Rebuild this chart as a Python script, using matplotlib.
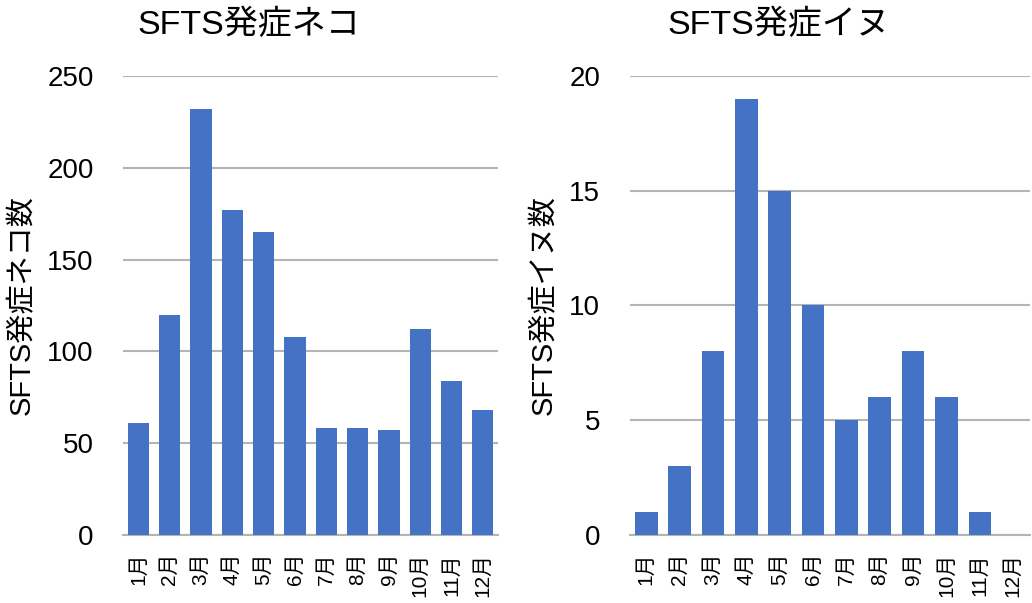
import matplotlib
matplotlib.use("Agg")
import matplotlib.pyplot as plt
import numpy as np

plt.rcParams['font.family'] = ['Liberation Sans', 'Noto Sans CJK JP', 'DejaVu Sans']

months = ["1月", "2月", "3月", "4月", "5月", "6月", "7月", "8月", "9月", "10月", "11月", "12月"]
cats = [61, 120, 232, 177, 165, 108, 58, 58, 57, 112, 84, 68]
dogs = [1, 3, 8, 19, 15, 10, 5, 6, 8, 6, 1, 0]

cat_ticks = [0, 50, 100, 150, 200, 250]
dog_ticks = [0, 5, 10, 15, 20]

bar_color = "#4472C4"
grid_color = "#b4b4b4"
fs = 20

fig = plt.figure(figsize=(10.32, 6.03), dpi=100)

def style(ax, data, ticks, ylabel):
    x = np.arange(len(months))
    ax.bar(x, data, width=0.68, color=bar_color, zorder=3)
    ax.set_xlim(-0.5, len(months) - 0.5)
    ax.set_ylim(ticks[0], ticks[-1])
    ax.set_yticks(ticks)
    ax.set_yticklabels([str(t) for t in ticks], fontsize=fs)
    ax.set_xticks(x)
    ax.set_xticklabels(months, rotation=90, fontsize=15, va='top', ha='center')
    ax.tick_params(axis='x', length=0, pad=13)
    ax.tick_params(axis='y', length=0, pad=21)
    for s in ['top', 'right', 'left']:
        ax.spines[s].set_visible(False)
    ax.spines['bottom'].set_color(grid_color)
    ax.spines['bottom'].set_linewidth(1.5)
    ax.grid(axis='y', color=grid_color, linewidth=1.5, zorder=0)
    ax.set_ylabel(ylabel, fontsize=21, labelpad=8)

ax1 = fig.add_axes([0.119, 0.113, 0.364, 0.761])
style(ax1, cats, cat_ticks, "SFTS発症ネコ数")
ax2 = fig.add_axes([0.610, 0.113, 0.388, 0.761])
style(ax2, dogs, dog_ticks, "SFTS発症イヌ数")

fig.text(249 / 1032, 1 - 25 / 603, "SFTS発症ネコ", fontsize=24.5, ha='center', va='center')
fig.text(779 / 1032, 1 - 25 / 603, "SFTS発症イヌ", fontsize=24.5, ha='center', va='center')

fig.savefig("out.png", dpi=100)
